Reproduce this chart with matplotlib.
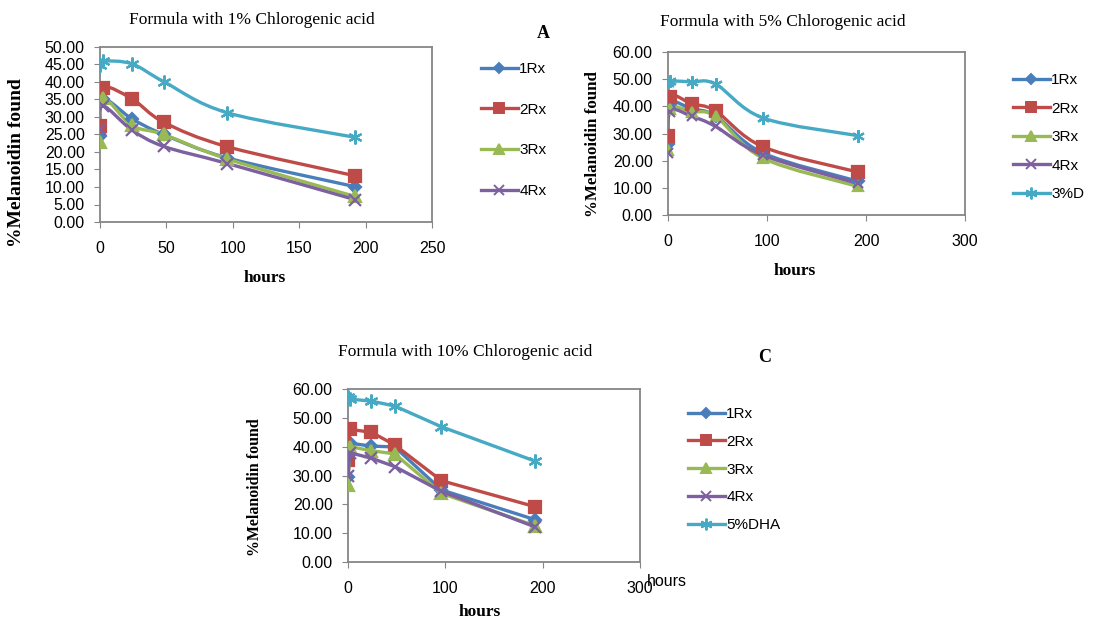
import numpy as np
import matplotlib
matplotlib.use("Agg")
import matplotlib.pyplot as plt
from matplotlib.path import Path
from matplotlib.patches import PathPatch

W, H = 1093, 619

hours = [0, 2, 24, 48, 96, 192]

# panel A - 1% chlorogenic acid
a_1rx = [24.6, 35.0, 29.5, 25.0, 18.3, 10.1]
a_2rx = [27.5, 38.2, 35.2, 28.5, 21.5, 13.2]
a_3rx = [22.9, 35.3, 27.6, 25.0, 18.0, 7.3]
a_4rx = [26.5, 33.2, 26.3, 21.6, 16.7, 6.4]
a_dha = [44.9, 46.0, 45.2, 40.1, 31.2, 24.2]

# panel B - 5% chlorogenic acid
b_1rx = [26.0, 41.0, 39.0, 36.5, 22.8, 12.4]
b_2rx = [29.1, 43.5, 40.9, 38.3, 25.1, 15.8]
b_3rx = [24.0, 39.0, 38.0, 36.3, 20.9, 10.5]
b_4rx = [22.7, 38.0, 36.3, 32.6, 22.0, 11.6]
b_dha = [48.7, 49.3, 49.0, 48.2, 35.7, 29.2]

# panel C - 10% chlorogenic acid
c_1rx = [29.5, 41.2, 40.2, 39.9, 25.0, 14.7]
c_2rx = [35.4, 46.0, 45.0, 40.6, 28.2, 19.2]
c_3rx = [26.7, 40.0, 38.6, 37.5, 23.8, 12.6]
c_4rx = [30.0, 37.9, 36.0, 33.1, 24.5, 12.2]
c_dha = [57.3, 56.5, 55.8, 54.1, 46.9, 35.0]

labels_a = ["1Rx", "2Rx", "3Rx", "4Rx"]
labels_b = ["1Rx", "2Rx", "3Rx", "4Rx", "3%D"]
labels_c = ["1Rx", "2Rx", "3Rx", "4Rx", "5%DHA"]

colors = ["#4A7EBB", "#BE4B48", "#98B954", "#7D60A0", "#46AAC5"]
markers = ["D", "s", "^", "x", (6, 2, 0)]
msizes = [6.5, 9, 8, 8, 10]

SERIF = "Liberation Serif"
SANS = "Liberation Sans"
plt.rcParams["font.family"] = SANS


def px(x, y):
    return x / W, 1 - y / H


def smooth_path(x, y):
    # excel style smoothed line (catmull-rom as bezier)
    p = np.column_stack([x, y]).astype(float)
    n = len(p)
    verts = [p[0]]
    codes = [Path.MOVETO]
    for i in range(n - 1):
        p0 = p[i - 1] if i > 0 else p[i]
        p3 = p[i + 2] if i + 2 < n else p[i + 1]
        c1 = p[i] + (p[i + 1] - p0) / 6
        c2 = p[i + 1] - (p3 - p[i]) / 6
        verts += [c1, c2, p[i + 1]]
        codes += [Path.CURVE4] * 3
    return Path(verts, codes)


def make_panel(rect, series, ymax, ystep, xmax, xstep, smooth, mscale=1.0):
    ax = fig.add_axes(rect)
    for i, ys in enumerate(series):
        c = colors[i]
        ms = msizes[i] * mscale
        if smooth:
            ax.add_patch(PathPatch(smooth_path(hours, ys), facecolor="none",
                                   edgecolor=c, lw=2.4, capstyle="round",
                                   joinstyle="round", zorder=2))
            ax.plot(hours, ys, ls="none", marker=markers[i], ms=ms,
                    color=c, mec=c, mew=1.6, zorder=3)
        else:
            ax.plot(hours, ys, ls="-", lw=2.4, marker=markers[i], ms=ms,
                    color=c, mec=c, mew=1.6, zorder=3)
    ax.set_xlim(0, xmax)
    ax.set_ylim(0, ymax)
    ax.set_xticks(np.arange(0, xmax + 1, xstep))
    ax.set_yticks(np.arange(0, ymax + 0.1, ystep))
    ax.set_yticklabels(["%.2f" % v for v in np.arange(0, ymax + 0.1, ystep)])
    ax.tick_params(axis="x", length=4, pad=10, labelsize=11.5, color="#868686")
    ax.tick_params(axis="y", length=4, pad=7, labelsize=11.5, color="#868686")
    for s in ax.spines.values():
        s.set_color("#868686")
        s.set_linewidth(1.3)
    return ax


def legend_handles(ax, n):
    hs = []
    for i in range(n):
        h, = ax.plot([], [], ls="-", lw=2.4, marker=markers[i], ms=msizes[i] - 1.5,
                     color=colors[i], mec=colors[i], mew=1.4)
        hs.append(h)
    return hs


fig = plt.figure(figsize=(W / 100, H / 100), dpi=100)
fig.patch.set_facecolor("white")

# ---- panel A
axA = make_panel([100 / W, 1 - 222 / H, 332 / W, 175 / H],
                 [a_1rx, a_2rx, a_3rx, a_4rx, a_dha], 50, 5, 250, 50, True)
fig.text(*px(252, 20), "Formula with 1% Chlorogenic acid", family=SERIF,
         fontsize=12.5, ha="center", va="center")
fig.text(*px(265, 278), "hours", family=SERIF, fontsize=12.5, weight="bold",
         ha="center", va="center")
fig.text(*px(17, 163), "%Melanoidin found", family=SERIF, fontsize=14,
         weight="bold", rotation=90, ha="center", va="center")
fig.text(*px(543, 33), "A", family=SERIF, fontsize=13, weight="bold",
         ha="center", va="center")
axA.legend(legend_handles(axA, 4), labels_a, loc="upper left",
           bbox_to_anchor=px(481, 62), bbox_transform=fig.transFigure,
           frameon=False, fontsize=11, handlelength=2.4, handletextpad=0.1,
           labelspacing=1.75, borderpad=0, borderaxespad=0)

# ---- panel B
axB = make_panel([668 / W, 1 - 215 / H, 297 / W, 163 / H],
                 [b_1rx, b_2rx, b_3rx, b_4rx, b_dha], 60, 10, 300, 100, True, 0.9)
fig.text(*px(783, 22), "Formula with 5% Chlorogenic acid", family=SERIF,
         fontsize=12.5, ha="center", va="center")
fig.text(*px(795, 271), "hours", family=SERIF, fontsize=12.5, weight="bold",
         ha="center", va="center")
fig.text(*px(593, 144), "%Melanoidin found", family=SERIF, fontsize=12.2,
         weight="bold", rotation=90, ha="center", va="center")
axB.legend(legend_handles(axB, 5), labels_b, loc="upper left",
           bbox_to_anchor=px(1013, 73), bbox_transform=fig.transFigure,
           frameon=False, fontsize=11, handlelength=2.4, handletextpad=0.1,
           labelspacing=0.95, borderpad=0, borderaxespad=0)

# ---- panel C
axC = make_panel([348 / W, 1 - 562 / H, 292 / W, 173 / H],
                 [c_1rx, c_2rx, c_3rx, c_4rx, c_dha], 60, 10, 300, 100, False)
fig.text(*px(465, 352), "Formula with 10% Chlorogenic acid", family=SERIF,
         fontsize=12.5, ha="center", va="center")
fig.text(*px(480, 612), "hours", family=SERIF, fontsize=12.5, weight="bold",
         ha="center", va="center")
fig.text(*px(255, 487), "%Melanoidin found", family=SERIF, fontsize=11.4,
         weight="bold", rotation=90, ha="center", va="center")
fig.text(*px(765, 357), "C", family=SERIF, fontsize=13, weight="bold",
         ha="center", va="center")
fig.text(*px(647, 581), "hours", family=SANS, fontsize=11.5,
         ha="left", va="center")
axC.legend(legend_handles(axC, 5), labels_c, loc="upper left",
           bbox_to_anchor=px(688, 407), bbox_transform=fig.transFigure,
           frameon=False, fontsize=11, handlelength=2.4, handletextpad=0.1,
           labelspacing=0.9, borderpad=0, borderaxespad=0)

fig.savefig("out.png", dpi=100, facecolor="white")
